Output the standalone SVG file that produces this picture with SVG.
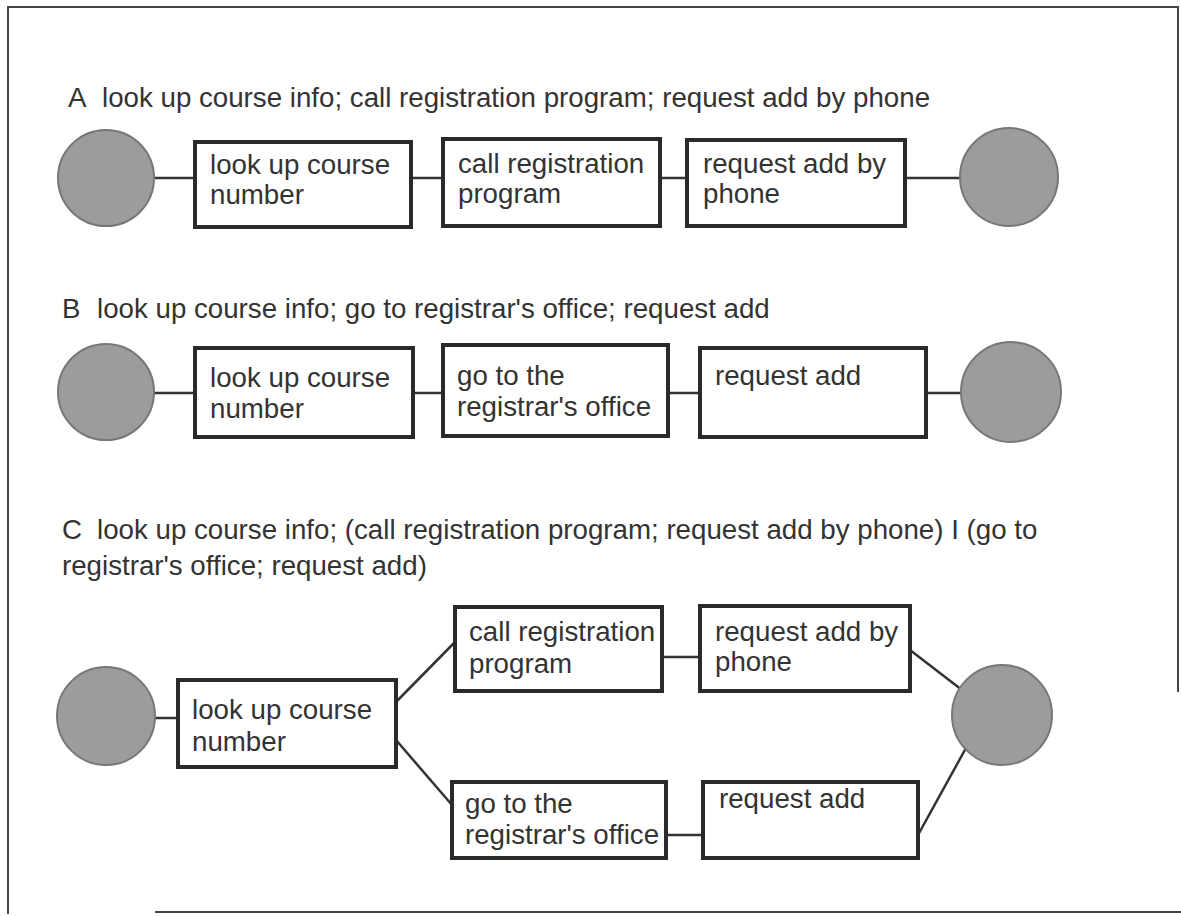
<svg xmlns="http://www.w3.org/2000/svg" width="1181" height="916" viewBox="0 0 1181 916">
<style>
text{font-family:"Liberation Sans",Arial,Helvetica,sans-serif;font-size:27.7px;fill:#333}
.box{fill:#fff;stroke:#2a2a2a;stroke-width:4}
.term{fill:#9c9c9c;stroke:#777;stroke-width:2}
.conn{stroke:#333;stroke-width:2.5;fill:none}
.frame{stroke:#444;stroke-width:2;fill:none}
</style>
<rect width="1181" height="916" fill="#fff"/>
<path class="frame" d="M8,914 L8,7 L1178,7 L1178,692 M155,912 L1181,912"/>
<g id="titles">
<text x="68" y="107">A<tspan x="102">look up course info; call registration program; request add by phone</tspan></text>
<text x="62" y="318">B<tspan x="97">look up course info; go to registrar's office; request add</tspan></text>
<text x="62" y="539">C<tspan x="97">look up course info; (call registration program; request add by phone) I (go to</tspan></text>
<text x="62" y="575">registrar's office; request add)</text>
</g>
<g id="connectors">
<line class="conn" x1="154" y1="178" x2="195" y2="178"/>
<line class="conn" x1="411" y1="178" x2="443" y2="178"/>
<line class="conn" x1="660" y1="178" x2="687" y2="178"/>
<line class="conn" x1="905" y1="178" x2="960" y2="178"/>
<line class="conn" x1="154" y1="393" x2="195" y2="393"/>
<line class="conn" x1="413" y1="393" x2="443" y2="393"/>
<line class="conn" x1="668" y1="393" x2="700" y2="393"/>
<line class="conn" x1="926" y1="393" x2="963" y2="393"/>
<line class="conn" x1="154" y1="718" x2="178" y2="718"/>
<line class="conn" x1="396" y1="702" x2="455" y2="642"/>
<line class="conn" x1="396" y1="740" x2="452" y2="805"/>
<line class="conn" x1="662" y1="657" x2="700" y2="657"/>
<line class="conn" x1="666" y1="835" x2="703" y2="835"/>
<line class="conn" x1="910" y1="650" x2="962" y2="690"/>
<line class="conn" x1="918" y1="835" x2="966" y2="748"/>
</g>
<g id="a-start"><circle class="term" cx="106" cy="178" r="48"/></g>
<g id="a-lookup"><rect class="box" x="195" y="142" width="216" height="85"/><text x="210" y="174">look up course<tspan x="210" y="204">number</tspan></text></g>
<g id="a-call"><rect class="box" x="443" y="139" width="217" height="87"/><text x="458" y="173">call registration<tspan x="458" y="203">program</tspan></text></g>
<g id="a-request"><rect class="box" x="687" y="140" width="218" height="86"/><text x="703" y="173">request add by<tspan x="703" y="203">phone</tspan></text></g>
<g id="a-end"><circle class="term" cx="1009" cy="177" r="49"/></g>
<g id="b-start"><circle class="term" cx="106" cy="392" r="48"/></g>
<g id="b-lookup"><rect class="box" x="195" y="348" width="218" height="89"/><text x="210" y="387">look up course<tspan x="210" y="418">number</tspan></text></g>
<g id="b-goto"><rect class="box" x="443" y="345" width="225" height="91"/><text x="457" y="385">go to the<tspan x="457" y="416">registrar's office</tspan></text></g>
<g id="b-request"><rect class="box" x="700" y="348" width="226" height="89"/><text x="715" y="385">request add</text></g>
<g id="b-end"><circle class="term" cx="1011" cy="392" r="50"/></g>
<g id="c-start"><circle class="term" cx="106" cy="716" r="49"/></g>
<g id="c-lookup"><rect class="box" x="178" y="680" width="218" height="87"/><text x="192" y="719">look up course<tspan x="192" y="751">number</tspan></text></g>
<g id="c-call"><rect class="box" x="455" y="607" width="207" height="84"/><text x="469" y="641">call registration<tspan x="469" y="673">program</tspan></text></g>
<g id="c-request-phone"><rect class="box" x="700" y="606" width="210" height="85"/><text x="715" y="641">request add by<tspan x="715" y="671">phone</tspan></text></g>
<g id="c-goto"><rect class="box" x="452" y="782" width="214" height="76"/><text x="465" y="813">go to the<tspan x="465" y="844">registrar's office</tspan></text></g>
<g id="c-request"><rect class="box" x="703" y="782" width="215" height="76"/><text x="719" y="808">request add</text></g>
<g id="c-end"><circle class="term" cx="1002" cy="715" r="50"/></g>
</svg>
